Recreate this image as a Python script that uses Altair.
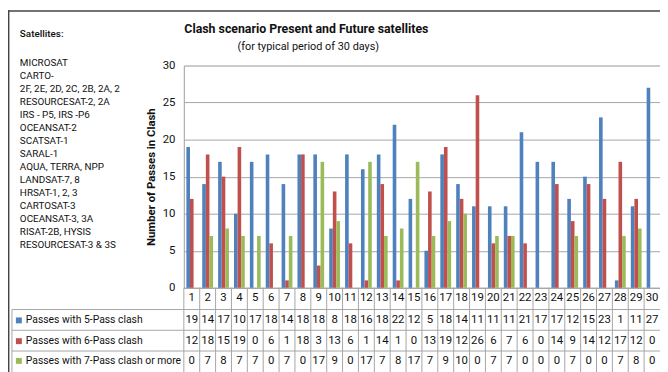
import altair as alt
import pandas as pd

days = list(range(1, 31))
series_names = ["Passes with 5-Pass clash", "Passes with 6-Pass clash", "Passes with 7-Pass clash or more"]
s5 = [19, 14, 17, 10, 17, 18, 14, 18, 18, 8, 18, 16, 18, 22, 12, 5, 18, 14, 11, 11, 11, 21, 17, 17, 12, 15, 23, 1, 11, 27]
s6 = [12, 18, 15, 19, 0, 6, 1, 18, 3, 13, 6, 1, 14, 1, 0, 13, 19, 12, 26, 6, 7, 6, 0, 14, 9, 14, 12, 17, 12, 0]
s7 = [0, 7, 8, 7, 7, 0, 7, 0, 17, 9, 0, 17, 7, 8, 17, 7, 9, 10, 0, 7, 7, 0, 0, 0, 7, 0, 0, 7, 8, 0]
colors = ["#4F81BD", "#C0504D", "#9BBB59"]
satellites = [
    "MICROSAT", "CARTO-", "2F, 2E, 2D, 2C, 2B, 2A, 2", "RESOURCESAT-2, 2A",
    "IRS - P5, IRS -P6", "OCEANSAT-2", "SCATSAT-1", "SARAL-1", "AQUA, TERRA, NPP",
    "LANDSAT-7, 8", "HRSAT-1, 2, 3", "CARTOSAT-3", "OCEANSAT-3, 3A", "RISAT-2B, HYSIS",
    "RESOURCESAT-3 & 3S",
]
title_text = "Clash  scenario Present and Future satellites"
subtitle_text = "(for typical period of 30 days)"
y_ticks = [0, 5, 10, 15, 20, 25, 30]

rows = []
for name, vals in zip(series_names, [s5, s6, s7]):
    for d, v in zip(days, vals):
        rows.append({"day": d, "series": name, "value": v})
df = pd.DataFrame(rows)
days_df = pd.DataFrame({"day": days})
one = pd.DataFrame({"a": [0]})

W, H = 482, 225
FONT = "Roboto"
GRID = "#a6a6a6"
TXT = "#111"

xscale = alt.Scale(domain=days, paddingInner=0, paddingOuter=0)

bars = alt.Chart(df).mark_bar().encode(
    x=alt.X("day:O", scale=xscale,
            axis=alt.Axis(labels=False, ticks=False, title=None, domainColor=GRID, grid=False)),
    xOffset=alt.XOffset("series:N", sort=series_names,
                        scale=alt.Scale(domain=series_names, paddingInner=0, paddingOuter=0.7)),
    y=alt.Y("value:Q", scale=alt.Scale(domain=[0, 30]),
            axis=alt.Axis(values=y_ticks, title="Number of Passes in Clash", ticks=False,
                          grid=True, gridColor=GRID, domainColor=GRID,
                          labelFontSize=11.5, labelPadding=9, labelColor=TXT,
                          titleFontSize=11.5, titleFontWeight="bold", titleColor=TXT,
                          titlePadding=6, labelFont=FONT, titleFont=FONT)),
    color=alt.Color("series:N", scale=alt.Scale(domain=series_names, range=colors), legend=None),
)

vrules = alt.Chart(days_df).mark_rule(color=GRID, strokeWidth=1).encode(
    x=alt.X("day:O", bandPosition=0),
    y=alt.value(H), y2=alt.value(H + 90),
)

layers = [bars, vrules]

# horizontal table lines
for yy in [247, 268, 289]:
    layers.append(alt.Chart(one).mark_rule(color=GRID, strokeWidth=1).encode(
        x=alt.value(-174), x2=alt.value(W), y=alt.value(yy)))
layers.append(alt.Chart(one).mark_rule(color=GRID, strokeWidth=1).encode(
    x=alt.value(-174), y=alt.value(247), y2=alt.value(H + 90)))

# outer frame
layers.append(alt.Chart(one).mark_rule(color="#444", strokeWidth=1.5).encode(
    x=alt.value(-178), x2=alt.value(W), y=alt.value(-55.3)))
layers.append(alt.Chart(one).mark_rule(color="#444", strokeWidth=1.5).encode(
    x=alt.value(-177.3), y=alt.value(-56), y2=alt.value(H + 90)))

# day numbers
layers.append(alt.Chart(days_df).mark_text(font=FONT, fontSize=11.5, baseline="middle", color=TXT).encode(
    x="day:O", y=alt.value(235), text="day:O"))

# values
for name, ry in zip(series_names, [258, 279, 299]):
    layers.append(alt.Chart(df).transform_filter(alt.datum.series == name).mark_text(
        font=FONT, fontSize=11.5, baseline="middle", color=TXT).encode(
        x="day:O", y=alt.value(ry), text="value:Q"))

# legend in table
for name, col, ry in zip(series_names, colors, [258, 279, 299]):
    layers.append(alt.Chart(one).mark_square(size=36, color=col, opacity=1).encode(
        x=alt.value(-167), y=alt.value(ry)))
    layers.append(alt.Chart(one).mark_text(font=FONT, fontSize=10.5, align="left", baseline="middle",
                                           color=TXT).encode(
        x=alt.value(-160), y=alt.value(ry), text=alt.value(name)))

# titles
layers.append(alt.Chart(one).mark_text(font=FONT, fontSize=12.5, fontWeight="bold", baseline="middle",
                                       color=TXT).encode(
    x=alt.value(124), y=alt.value(-37), text=alt.value(title_text)))
layers.append(alt.Chart(one).mark_text(font=FONT, fontSize=11, baseline="middle", color=TXT).encode(
    x=alt.value(126), y=alt.value(-19), text=alt.value(subtitle_text)))

# satellites
layers.append(alt.Chart(one).mark_text(font=FONT, fontSize=10, fontWeight=500, align="left",
                                       baseline="middle", color=TXT).encode(
    x=alt.value(-166), y=alt.value(-32), text=alt.value("Satellites:")))
layers.append(alt.Chart(one).mark_text(font=FONT, fontSize=10, align="left", baseline="middle",
                                       lineHeight=13.2, color=TXT).encode(
    x=alt.value(-166), y=alt.value(-3), text=alt.value(satellites)))

chart = alt.layer(*layers).properties(
    width=W, height=H,
    autosize=alt.AutoSizeParams(type="none"),
    padding={"left": 178, "top": 56, "right": 0, "bottom": 83},
).configure_view(stroke=None).configure(background="white")

chart.save("out.html", embed_options={"renderer": "svg", "actions": False})
